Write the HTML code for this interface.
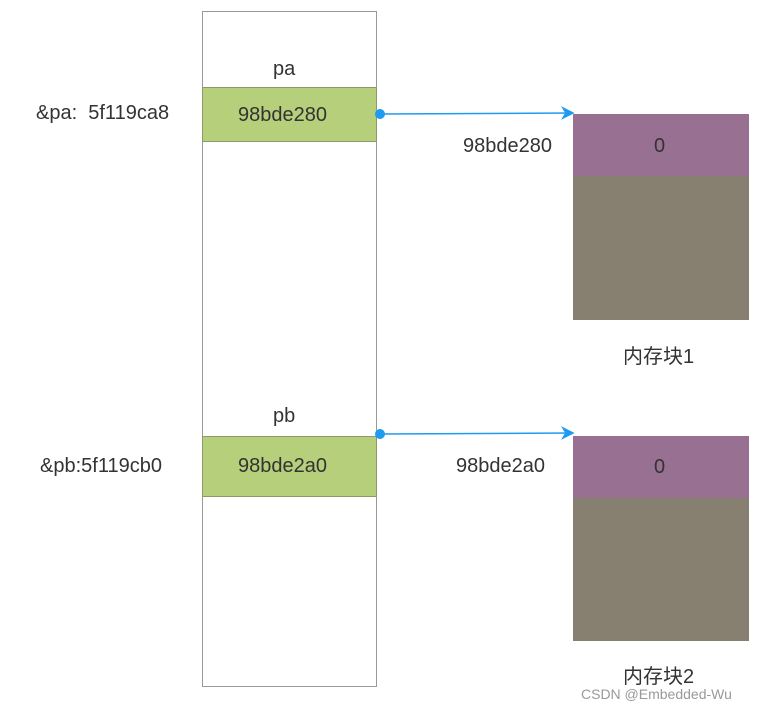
<!DOCTYPE html>
<html><head><meta charset="utf-8"><style>
body{margin:0;width:759px;height:711px;background:#fff;position:relative;overflow:hidden;font-family:"Liberation Sans","Noto Sans CJK SC",sans-serif;color:#333}
.a{position:absolute}
.t{position:absolute;font-size:20px;white-space:nowrap}
</style></head><body>
<div class="a" style="left:202px;top:11px;width:173px;height:674px;border:1px solid #999"></div>
<div class="a" style="left:202px;top:87px;width:173px;height:55px;background:#b5cf7b;border:1px solid #8a9a6a;box-sizing:border-box;width:175px"></div>
<div class="a" style="left:202px;top:436px;width:175px;height:61px;background:#b5cf7b;border:1px solid #8a9a6a;box-sizing:border-box"></div>
<div class="t" style="left:273px;top:58px">pa</div>
<div class="t" style="left:273px;top:405px">pb</div>
<div class="t" style="left:238px;top:104px">98bde280</div>
<div class="t" style="left:238px;top:455px">98bde2a0</div>
<div class="t" style="left:36px;top:102px">&amp;pa:&nbsp; 5f119ca8</div>
<div class="t" style="left:40px;top:455px">&amp;pb:5f119cb0</div>
<div class="t" style="left:463px;top:135px">98bde280</div>
<div class="t" style="left:456px;top:455px">98bde2a0</div>
<div class="a" style="left:573px;top:114px;width:176px;height:62px;background:#987092"></div>
<div class="a" style="left:573px;top:176px;width:176px;height:144px;background:#878070"></div>
<div class="a" style="left:573px;top:436px;width:176px;height:62px;background:#987092"></div>
<div class="a" style="left:573px;top:498px;width:176px;height:143px;background:#878070"></div>
<div class="t" style="left:654px;top:135px">0</div>
<div class="t" style="left:654px;top:456px">0</div>
<div class="t" style="left:623px;top:340px">内存块1</div>
<div class="t" style="left:623px;top:660px">内存块2</div>
<div class="a" style="left:581px;top:686px;font-size:14px;color:#999">CSDN @Embedded-Wu</div>
<svg class="a" style="left:0;top:0" width="759" height="711">
<g stroke="#1e9bf0" fill="#1e9bf0" stroke-width="1.5">
<circle cx="380" cy="114" r="5" stroke="none"/><line x1="380" y1="114" x2="572" y2="113"/><path d="M573 113 L563 108 L566 113 L563 118Z"/>
<circle cx="380" cy="434" r="5" stroke="none"/><line x1="380" y1="434" x2="572" y2="433"/><path d="M573 433 L563 428 L566 433 L563 438Z"/>
</g></svg>
</body></html>
